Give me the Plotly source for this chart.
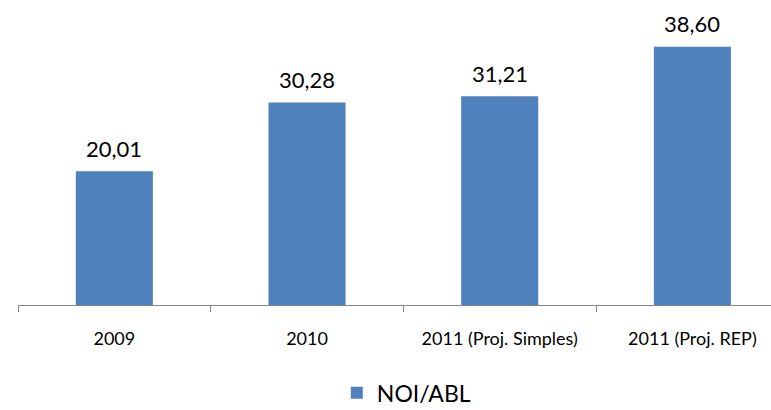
import plotly.graph_objects as go

categories = ["2009", "2010", "2011 (Proj. Simples)", "2011 (Proj. REP)"]
noi_abl = [20.01, 30.28, 31.21, 38.60]
series_name = "NOI/ABL"

bar_color = "#4F81BD"
axis_color = "#868686"
font_family = "Lato, 'Open Sans', sans-serif"

fig = go.Figure()
fig.add_trace(go.Bar(
    x=categories,
    y=noi_abl,
    name=series_name,
    marker=dict(color=bar_color, line=dict(width=0)),
    width=0.4,
    showlegend=True,
))

# value labels above each bar, decimal comma (x given as category index)
for i, val in enumerate(noi_abl):
    fig.add_annotation(
        x=i, y=val, text=f"{val:.2f}".replace(".", ","),
        showarrow=False, yanchor="middle", yshift=23,
        font=dict(family=font_family, size=22, color="#000000"),
    )

fig.update_layout(
    width=771, height=410,
    margin=dict(l=18, r=0, t=4, b=105),
    paper_bgcolor="white", plot_bgcolor="white",
    font=dict(family=font_family, color="#000000"),
    showlegend=True,
    legend=dict(
        orientation="h",
        xref="container", yref="container",
        x=0.527, y=0.042, xanchor="center", yanchor="middle",
        font=dict(size=23, family=font_family, color="#000000"),
        itemwidth=30,
    ),
    xaxis=dict(
        type="category",
        range=[-0.5, 3.408],
        showline=True, linecolor=axis_color, linewidth=1,
        ticks="outside", tickson="boundaries", ticklen=6,
        tickcolor=axis_color, tickwidth=1,
        tickfont=dict(size=18, family=font_family, color="#000000"),
        ticklabelstandoff=17,
        showgrid=False, zeroline=False,
    ),
    yaxis=dict(
        range=[0, 45],
        showticklabels=False, showgrid=False, zeroline=False,
        showline=False, ticks="",
    ),
)

fig.write_html("out.html")
